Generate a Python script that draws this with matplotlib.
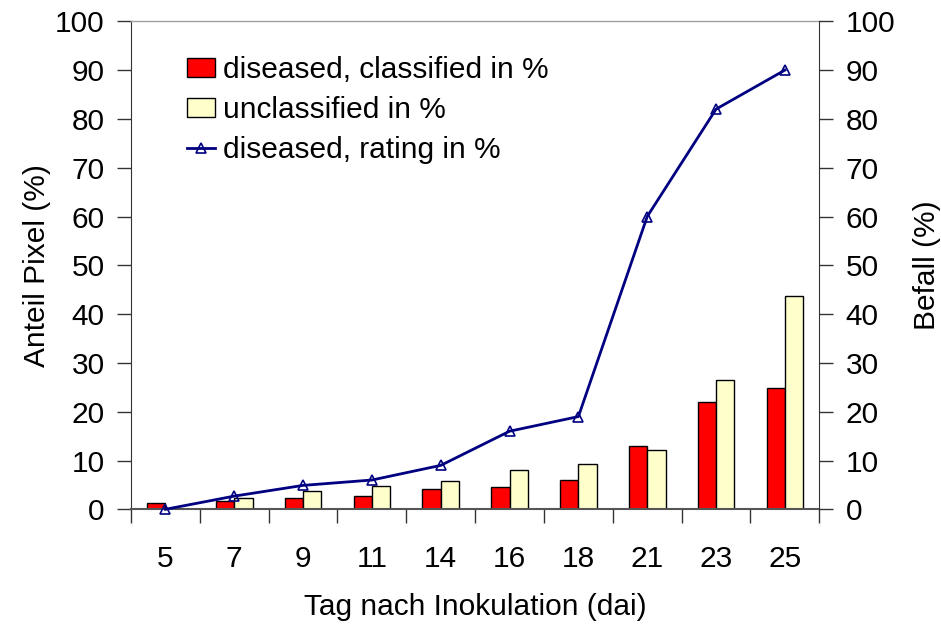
import matplotlib
matplotlib.use("Agg")
import matplotlib.pyplot as plt
import numpy as np
from matplotlib.ticker import FixedLocator

plt.rcParams['font.family'] = ['Liberation Sans', 'DejaVu Sans']

days = ["5", "7", "9", "11", "14", "16", "18", "21", "23", "25"]
classified = [1.2, 1.6, 2.4, 2.8, 4.1, 4.5, 6.1, 13.0, 22.0, 24.9]
unclassified = [0.0, 2.4, 3.7, 4.8, 5.7, 8.1, 9.3, 12.2, 26.5, 43.7]
rating = [0.0, 2.7, 4.9, 6.0, 9.0, 16.0, 19.0, 60.0, 82.0, 90.0]

fig = plt.figure(figsize=(9.41, 6.28), dpi=100)
ax = fig.add_axes([131/941, 1-509.3/628, (819.3-131)/941, (509.3-21.3)/628])
x = np.arange(len(days))
w = 0.267
ax.bar(x - w/2, classified, w, color="#FF0000", edgecolor="#000000", linewidth=1.0,
       label="diseased, classified in %", zorder=2)
ax.bar(x + w/2, unclassified, w, color="#FFFFCC", edgecolor="#000000", linewidth=1.0,
       label="unclassified in %", zorder=2)
ax.set_xlim(-0.5, len(days) - 0.5)
ax.set_ylim(0, 100)
ax.set_yticks(np.arange(0, 101, 10))
ax.set_xticks(x)
ax.set_xticklabels(days)
ax.xaxis.set_minor_locator(FixedLocator(np.arange(-0.5, len(days), 1.0)))
ax.tick_params(axis='x', which='major', length=0, pad=26, labelsize=21.5)
ax.tick_params(axis='x', which='minor', length=10, width=1, direction='out', color='#333333')
ax.tick_params(axis='y', which='major', length=10, width=1, direction='out', pad=9,
               labelsize=21.5, color='#333333')
ax.spines['top'].set_color('#a0a0a0')
ax.spines['top'].set_linewidth(1)
ax.spines['right'].set_visible(False)
ax.spines['left'].set_color('#333333')
ax.spines['bottom'].set_color('#555555')
ax.spines['bottom'].set_linewidth(1.5)
ax.set_ylabel("Anteil Pixel (%)", fontsize=21.5, labelpad=3)
ax.set_xlabel("Tag nach Inokulation (dai)", fontsize=21.5, labelpad=14)

ax2 = ax.twinx()
ax2.plot(x, rating, color="#000080", linewidth=2, marker="^", markersize=7,
         markerfacecolor="none", markeredgecolor="#000080", markeredgewidth=1.2,
         label="diseased, rating in %", zorder=3, clip_on=False)
ax2.set_ylim(0, 100)
ax2.set_yticks(np.arange(0, 101, 10))
ax2.tick_params(axis='y', which='major', length=10, width=1, direction='out', pad=9,
                labelsize=21.5, color='#333333')
ax2.spines['top'].set_visible(False)
ax2.spines['left'].set_visible(False)
ax2.spines['bottom'].set_visible(False)
ax2.spines['right'].set_color('#333333')
ax2.set_ylabel("Befall (%)", fontsize=21.5, labelpad=13)

h1, l1 = ax.get_legend_handles_labels()
h2, l2 = ax2.get_legend_handles_labels()
leg = ax.legend(h1 + h2, l1 + l2, loc="upper left", bbox_to_anchor=(0.081, 0.929),
                frameon=False, fontsize=21.5, handlelength=0.93, handleheight=0.63,
                handletextpad=0.27, labelspacing=0.40, borderaxespad=0, borderpad=0)

fig.savefig("out.png", dpi=100)
